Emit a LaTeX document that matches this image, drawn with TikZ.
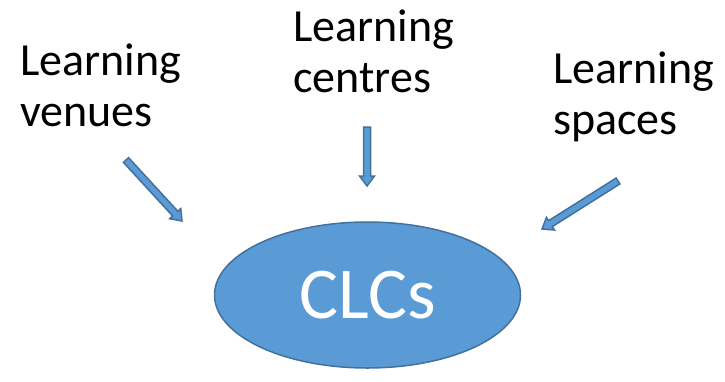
\documentclass[tikz,border=0pt]{standalone}
\usepackage{fontspec}
\setmainfont{Carlito}
\usepackage{tikz}
\usetikzlibrary{calc, shapes.geometric}
\definecolor{clcfill}{HTML}{5B9BD5}
\definecolor{clcdraw}{HTML}{41719C}
\newcommand{\BlockArrow}[2]{
	\def\ltail{#1}
	\def\lhead{#2}
	\def\lshaft{3.5pt}
	\def\lwing{7.5pt}
	\def\ltip{10pt}
	\filldraw[draw=clcdraw, fill=clcfill, line width=1.5pt, line join=miter]
		let \p1 = ($(\lhead)-(\ltail)$), \n1 = {atan2(\y1,\x1)}, \n2 = {veclen(\x1,\y1)} in
		[shift={(\ltail)}, rotate=\n1]
		(0pt,-\lshaft) -- ({\n2*1pt-\ltip},-\lshaft) -- ({\n2*1pt-\ltip},-\lwing) -- ({\n2*1pt},0pt)
		-- ({\n2*1pt-\ltip},\lwing) -- ({\n2*1pt-\ltip},\lshaft) -- (0pt,\lshaft) -- cycle;
}

\begin{document}
\begin{tikzpicture}[x=1pt, y=-1pt, line cap=round,
	label/.style={font=\fontsize{46}{51}\selectfont, align=left, inner sep=0pt, anchor=base west}]

	\useasboundingbox (0,0) rectangle (725,381);

	\node[ellipse, draw=clcdraw, fill=clcfill, line width=1.5pt, minimum width=306pt, minimum height=146pt,
		text=white, font=\fontsize{73}{80}\selectfont] (clc) at (367.5,295) {CLCs};

	% base anchor sits on the second line
	\node[label] (venues) at (20,126) {Learning\\venues};
	\node[label] (centres) at (293,92) {Learning\\centres};
	\node[label] (spaces) at (553,134) {Learning\\spaces};

	\coordinate (venuesTail) at (126,160);
	\coordinate (venuesHead) at (182,221);
	\coordinate (centresTail) at (367,127);
	\coordinate (centresHead) at (367,186);
	\coordinate (spacesTail) at (618,181);
	\coordinate (spacesHead) at (542,229);

	\BlockArrow{venuesTail}{venuesHead}
	\BlockArrow{centresTail}{centresHead}
	\BlockArrow{spacesTail}{spacesHead}

\end{tikzpicture}
\end{document}
